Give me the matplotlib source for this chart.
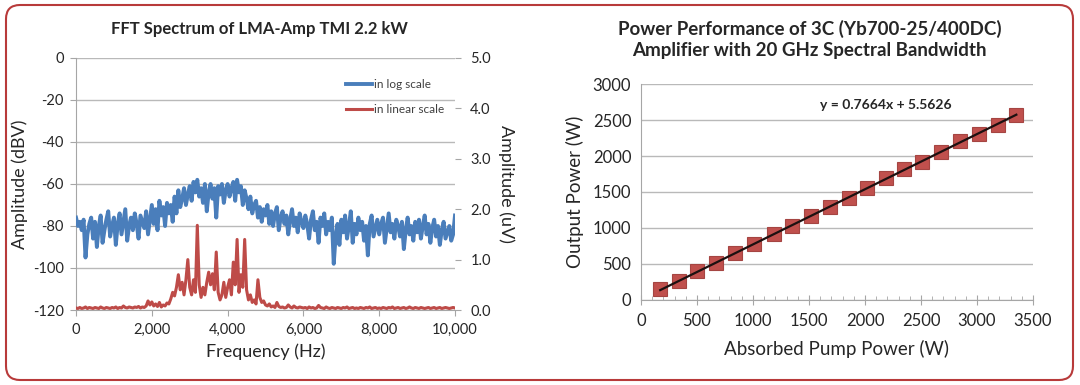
import numpy as np
import matplotlib.pyplot as plt
from matplotlib.patches import FancyBboxPatch
from matplotlib.transforms import IdentityTransform
from matplotlib.ticker import FuncFormatter, MultipleLocator

plt.rcParams['font.family'] = ['Lato', 'DejaVu Sans']
plt.rcParams['axes.unicode_minus'] = False

# ---- FFT spectrum (left) ----
freq_hz = np.arange(0, 10001, 50)

amp_log_dbv = [
    -76, -80, -78, -82, -77, -95, -84, -79, -76, -86,
    -78, -90, -80, -75, -88, -82, -77, -73, -85, -80,
    -76, -89, -79, -74, -84, -78, -72, -87, -80, -76,
    -82, -74, -79, -86, -75, -78, -81, -73, -84, -77,
    -70, -79, -72, -82, -68, -75, -71, -80, -69, -74,
    -70, -78, -66, -74, -63, -71, -67, -62, -70, -65,
    -61, -68, -59, -64, -58, -66, -62, -69, -60, -73,
    -64, -60, -67, -62, -76, -61, -65, -60, -69, -63,
    -60, -66, -62, -59, -68, -58, -64, -61, -70, -63,
    -67, -72, -66, -74, -70, -68, -76, -71, -78, -72,
    -75, -70, -79, -73, -80, -74, -71, -82, -76, -73,
    -79, -75, -84, -77, -72, -80, -76, -83, -74, -78,
    -81, -75, -79, -86, -77, -73, -82, -78, -88, -76,
    -80, -74, -84, -78, -82, -76, -98, -85, -79, -89,
    -77, -83, -75, -86, -80, -73, -88, -79, -84, -76,
    -82, -78, -87, -80, -94, -79, -75, -85, -81, -77,
    -84, -79, -76, -88, -81, -74, -83, -79, -86, -77,
    -80, -85, -78, -91, -82, -76, -84, -80, -87, -78,
    -83, -77, -86, -80, -75, -84, -79, -88, -81, -77,
    -85, -80, -89, -82, -78, -86, -83, -80, -87, -84,
    -75,
]

amp_lin_uv = [
    0.04, 0.03, 0.05, 0.03, 0.04, 0.06, 0.03, 0.05, 0.04, 0.03,
    0.05, 0.04, 0.03, 0.06, 0.04, 0.03, 0.05, 0.04, 0.03, 0.05,
    0.04, 0.06, 0.03, 0.05, 0.04, 0.08, 0.05, 0.04, 0.06, 0.05,
    0.04, 0.06, 0.05, 0.07, 0.04, 0.06, 0.05, 0.08, 0.18, 0.10,
    0.16, 0.08, 0.12, 0.07, 0.15, 0.06, 0.10, 0.08, 0.14, 0.12,
    0.22, 0.35, 0.28, 0.45, 0.70, 0.40, 0.55, 0.30, 0.60, 1.00,
    0.45, 0.30, 0.60, 0.35, 1.68, 0.50, 0.25, 0.45, 0.30, 0.55,
    0.75, 0.50, 0.72, 0.40, 1.15, 0.35, 0.20, 0.30, 0.55, 0.25,
    0.45, 0.60, 0.30, 0.95, 0.50, 1.40, 0.35, 0.70, 0.45, 1.40,
    0.40, 0.20, 0.30, 0.15, 0.20, 0.12, 0.60, 0.25, 0.15, 0.18,
    0.10, 0.08, 0.12, 0.06, 0.08, 0.05, 0.15, 0.07, 0.05, 0.06,
    0.04, 0.05, 0.10, 0.06, 0.04, 0.08, 0.05, 0.04, 0.06, 0.05,
    0.04, 0.05, 0.03, 0.06, 0.04, 0.05, 0.03, 0.04, 0.09, 0.05,
    0.04, 0.03, 0.06, 0.04, 0.03, 0.05, 0.04, 0.03, 0.05, 0.04,
    0.03, 0.05, 0.04, 0.06, 0.03, 0.04, 0.05, 0.03, 0.04, 0.03,
    0.05, 0.04, 0.03, 0.05, 0.04, 0.06, 0.03, 0.04, 0.05, 0.03,
    0.04, 0.03, 0.05, 0.04, 0.03, 0.05, 0.04, 0.06, 0.03, 0.04,
    0.05, 0.03, 0.04, 0.05, 0.03, 0.04, 0.06, 0.04, 0.03, 0.05,
    0.04, 0.03, 0.05, 0.04, 0.03, 0.04, 0.05, 0.03, 0.04, 0.05,
    0.03, 0.04, 0.05, 0.03, 0.04, 0.05, 0.04, 0.03, 0.04, 0.05,
    0.04,
]

# ---- power performance (right) ----
pump_w = [172, 338, 502, 674, 840, 1013, 1185, 1351, 1520, 1687,
          1853, 2017, 2183, 2352, 2513, 2682, 2849, 3015, 3187, 3351]
output_w = [152, 263, 401, 517, 655, 775, 922, 1024, 1162, 1292,
            1421, 1559, 1693, 1822, 1914, 2053, 2205, 2306, 2435, 2569]
fit_slope = 0.7664
fit_icpt = 5.5626

blue = '#4a7ebb'
red = '#be4b48'
grid_c = '#b9b9b9'
txt = '#262626'

fig = plt.figure(figsize=(10.8, 3.85), dpi=100)

# rounded red frame
fig.add_artist(FancyBboxPatch((6, 5), 1067, 375,
                              boxstyle='round,pad=0,rounding_size=14',
                              transform=IdentityTransform(),
                              facecolor='none', edgecolor='#b83a3a', lw=1.5))

# left chart
ax = fig.add_axes([0.0704, 0.1948, 0.3509, 0.6546])
ax.plot(freq_hz, amp_log_dbv, color=blue, lw=2.8, label='in log scale', zorder=3)
ax.set_xlim(0, 10000)
ax.set_ylim(-120, 0)
ax.set_yticks(np.arange(-120, 1, 20))
ax.set_xticks(np.arange(0, 10001, 2000))
ax.xaxis.set_major_formatter(FuncFormatter(lambda v, p: f'{int(v):,}'))
ax.grid(axis='y', color=grid_c, lw=1)
ax.set_axisbelow(True)
for s in ['top', 'right']:
    ax.spines[s].set_visible(False)
for s in ['left', 'bottom']:
    ax.spines[s].set_color('#a6a6a6')
ax.tick_params(colors='#a6a6a6', labelcolor=txt, labelsize=10.5, length=4, pad=5)
ax.set_xlabel('Frequency (Hz)', fontsize=13, color=txt, labelpad=5)
ax.set_ylabel('Amplitude (dBV)', fontsize=13, color=txt, labelpad=3)
ax.set_title('FFT Spectrum of LMA-Amp TMI 2.2 kW', fontsize=12, x=0.483,
             fontweight='bold', color=txt, pad=17)

ax2 = ax.twinx()
ax2.plot(freq_hz, amp_lin_uv, color=red, lw=2.2, label='in linear scale', zorder=3)
ax2.set_ylim(0, 5)
ax2.set_yticks(np.arange(0, 5.1, 1))
ax2.yaxis.set_major_formatter(FuncFormatter(lambda v, p: f'{v:.1f}'))
for s in ['top', 'left', 'bottom', 'right']:
    ax2.spines[s].set_visible(False)
ax2.tick_params(colors='#a6a6a6', labelcolor=txt, labelsize=10.5, length=4, pad=7)
ax2.set_ylabel('Amplitude (uV)', fontsize=13, color=txt, rotation=270, labelpad=17)

h1, l1 = ax.get_legend_handles_labels()
h2, l2 = ax2.get_legend_handles_labels()
ax2.legend(h1 + h2, l1 + l2, loc='upper right', bbox_to_anchor=(1.0, 0.96),
           frameon=False, fontsize=8.5, handlelength=2.2, handletextpad=0.15,
           labelspacing=1.25, labelcolor='#404040')

# right chart
bx = fig.add_axes([0.5935, 0.2208, 0.3630, 0.5610])
fit_x = np.array([pump_w[0], pump_w[-1]])
bx.plot(pump_w, output_w, 's', color='#c0504d', mec='#a54542', mew=0.8,
        ms=9.5, zorder=3)
bx.plot(fit_x, fit_slope * fit_x + fit_icpt, color='#1c1010', lw=1.6, zorder=4)
bx.set_xlim(0, 3500)
bx.set_ylim(0, 3000)
bx.set_xticks(np.arange(0, 3501, 500))
bx.set_yticks(np.arange(0, 3001, 500))
bx.xaxis.set_minor_locator(MultipleLocator(100))
bx.grid(axis='y', color=grid_c, lw=1)
bx.set_axisbelow(True)
for s in ['top', 'right']:
    bx.spines[s].set_visible(False)
for s in ['left', 'bottom']:
    bx.spines[s].set_color('#a6a6a6')
bx.tick_params(axis='y', length=0, labelsize=12, labelcolor=txt, pad=7)
bx.tick_params(axis='x', which='major', direction='inout', length=7,
               colors='#a6a6a6', labelcolor=txt, labelsize=12, pad=6)
bx.tick_params(axis='x', which='minor', direction='in', length=3, colors='#a6a6a6')
bx.set_xlabel('Absorbed Pump Power (W)', fontsize=13.5, color=txt, labelpad=8)
bx.set_ylabel('Output Power (W)', fontsize=13.5, color=txt, labelpad=6)
bx.set_title('Power Performance of 3C (Yb700-25/400DC)\n'
             'Amplifier with 20 GHz Spectral Bandwidth', x=0.43,
             fontsize=13.5, fontweight='bold', color=txt, pad=20, linespacing=1.3)
bx.text(0.625, 0.905, f'y = {fit_slope}x + {fit_icpt}', transform=bx.transAxes,
        ha='center', va='center', fontsize=10, fontweight='bold', color=txt)

fig.savefig('out.png', dpi=100, facecolor='white')
